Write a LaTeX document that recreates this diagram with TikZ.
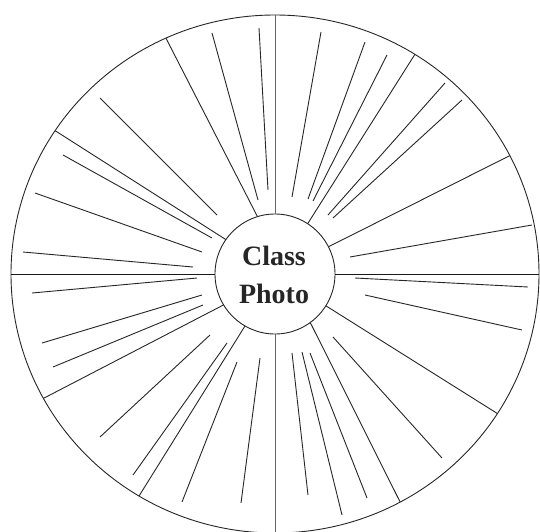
\documentclass[tikz,border=0pt]{standalone}
\usepackage{fontspec}
\setmainfont{Liberation Serif}
\begin{document}
\begin{tikzpicture}[x=1pt,y=1pt,
  spoke/.style={draw=black!85,line width=0.9pt},
  axisline/.style={draw=black!90,line width=1pt},
  rim/.style={draw=black!85,line width=0.9pt}]
\useasboundingbox (-275,-257) rectangle (265,274);
% outer rim
\draw[rim] (0,0) ellipse [x radius=264, y radius=259];
% centre
\node[circle,rim,minimum size=120pt,inner sep=0pt,outer sep=0pt] (photo) at (0,0) {};
\node[align=center,font=\fontsize{28}{38}\selectfont\bfseries,text=black!85] (label) at (-1,-1) {Class\\Photo};
% outer points
\coordinate (top) at (0,259);
\coordinate (bot) at (0,-259);
\coordinate (lft) at (-264,0);
\coordinate (rgt) at (264,0);
% axes
\draw[axisline,draw=black!60] (top) -- (photo.90);
\draw[axisline,draw=black!60] (photo.270) -- (bot);
\draw[axisline] (lft) -- (photo.180);
\draw[axisline] (photo.0) -- (rgt);
% full spokes (inner angle -> outer angle)
\foreach \a/\b in {107.8/114.4, 145.3/146.4, 211.9/208.7, 240.9/239,
                   306/298.3, 328.1/327.4, 27/27.2, 57.6/58}
  \draw[spoke] (photo.\a) -- ({264*cos(\b)},{259*sin(\b)});
% free spokes, top left
\draw[spoke] (-63,241) -- (-17,74);
\draw[spoke] (-16,246) -- (-7,84);
\draw[spoke] (-175,176) -- (-58,59);
\draw[spoke] (-212,119) -- (-63,36);
\draw[spoke] (-240,81) -- (-73,22);
\draw[spoke] (-252,22) -- (-82,7);
% top right
\draw[spoke] (46,242) -- (17,77);
\draw[spoke] (90,232) -- (33,75);
\draw[spoke] (112,219) -- (38,73);
\draw[spoke] (170,191) -- (53,59);
\draw[spoke] (187,174) -- (58,56);
\draw[spoke] (257,49) -- (75,17);
% bottom left
\draw[spoke] (-243,-19) -- (-78,-4);
\draw[spoke] (-233,-69) -- (-73,-21);
\draw[spoke] (-222,-93) -- (-72,-31);
\draw[spoke] (-175,-163) -- (-65,-61);
\draw[spoke] (-142,-201) -- (-48,-69);
\draw[spoke] (-93,-228) -- (-38,-88);
\draw[spoke] (-34,-229) -- (-15,-84);
% bottom right
\draw[spoke] (80,-4) -- (253,-13);
\draw[spoke] (90,-21) -- (247,-56);
\draw[spoke] (58,-63) -- (167,-184);
\draw[spoke] (35,-79) -- (92,-224);
\draw[spoke] (27,-78) -- (67,-241);
\draw[spoke] (17,-79) -- (33,-221);
\end{tikzpicture}
\end{document}
